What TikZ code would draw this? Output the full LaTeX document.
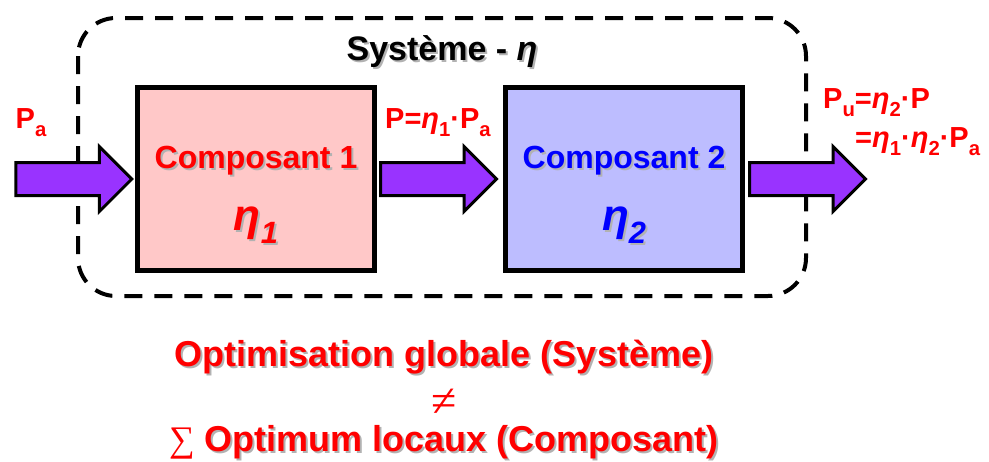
\documentclass[tikz,border=0pt]{standalone}
\usepackage{fontspec}
\setmainfont{Liberation Sans}
\newfontfamily\symb{Liberation Serif}
\usetikzlibrary{positioning,shapes.arrows}
\definecolor{rose}{RGB}{255,200,200}
\definecolor{lavande}{RGB}{189,189,255}
\definecolor{violetfleche}{RGB}{153,51,255}
\newcommand{\ombre}[1]{\makebox[0pt][l]{\hspace{2pt}\raisebox{-2pt}{\textcolor{black!30}{#1}}}#1}
\newcommand{\ind}[1]{\raisebox{-0.3em}{\scalebox{0.7}{#1}}}
\begin{document}
\begin{tikzpicture}[x=1pt, y=-1pt,
	texte/.style={inner sep=0pt, text=red, font=\bfseries\fontsize{29}{32}\selectfont},
	boite/.style={draw, line width=5pt, minimum width=237pt, minimum height=183pt},
	fleche/.style={single arrow, draw, line width=3pt, fill=violetfleche, inner sep=0pt, inner ysep=15pt,
		minimum height=116pt, single arrow head extend=16pt, single arrow tip angle=90}]
	\useasboundingbox (0,0) rectangle (989,461);
	
	% Cadre du système
	\draw[line width=4pt, dash pattern=on 18pt off 12pt, rounded corners=38pt] (78,18) rectangle (806,296);
	\node[texte, text=black, anchor=base, font=\bfseries\fontsize{34}{36}\selectfont] (titre) at (442,60) {\ombre{Système - \itshape η}};
	
	% Composants
	\node[boite, fill=rose] (comp1) at (256,179) {};
	\node[boite, fill=lavande] (comp2) at (624,179) {};
	\node[texte, anchor=base, font=\bfseries\fontsize{32}{34}\selectfont] (nom1) at (256,168) {\ombre{Composant 1}};
	\node[texte, anchor=base, font=\bfseries\fontsize{44}{44}\selectfont] (eta1) at (256,230) {\ombre{\itshape η\ind{1}}};
	\node[texte, text=blue, anchor=base, font=\bfseries\fontsize{32}{34}\selectfont] (nom2) at (624,168) {\ombre{Composant 2}};
	\node[texte, text=blue, anchor=base, font=\bfseries\fontsize{44}{44}\selectfont] (eta2) at (624,230) {\ombre{\itshape η\ind{2}}};
	
	% Flèches de puissance
	\node[fleche, left=1pt of comp1] (entree) {};
	\node[fleche, right=2pt of comp1] (milieu) {};
	\node[fleche, right=3pt of comp2] (sortie) {};
	
	% Puissances
	\node[texte, anchor=base] (pa) at (31,128) {P\ind{a}};
	\node[texte, anchor=base] (p) at (438,128) {P=\textit{η}\ind{1}·P\ind{a}};
	\node[texte, anchor=base west] (pu) at (823,108) {P\ind{u}=\textit{η}\ind{2}·P};
	\node[texte, anchor=base west] (pu2) at (855,147) {=\textit{η}\ind{1}·\textit{η}\ind{2}·P\ind{a}};
	
	% Conclusion
	\node[texte, anchor=base, font=\bfseries\fontsize{36}{38}\selectfont] (globale) at (444,366) {\ombre{Optimisation globale (Système)}};
	\node[texte, font=\symb\fontsize{46}{46}\selectfont] (diff) at (444,403) {≠};
	\node[texte, anchor=base, font=\bfseries\fontsize{36}{38}\selectfont] (locaux) at (444,451) {{\symb\mdseries ∑} \ombre{Optimum locaux (Composant)}};
\end{tikzpicture}
\end{document}
